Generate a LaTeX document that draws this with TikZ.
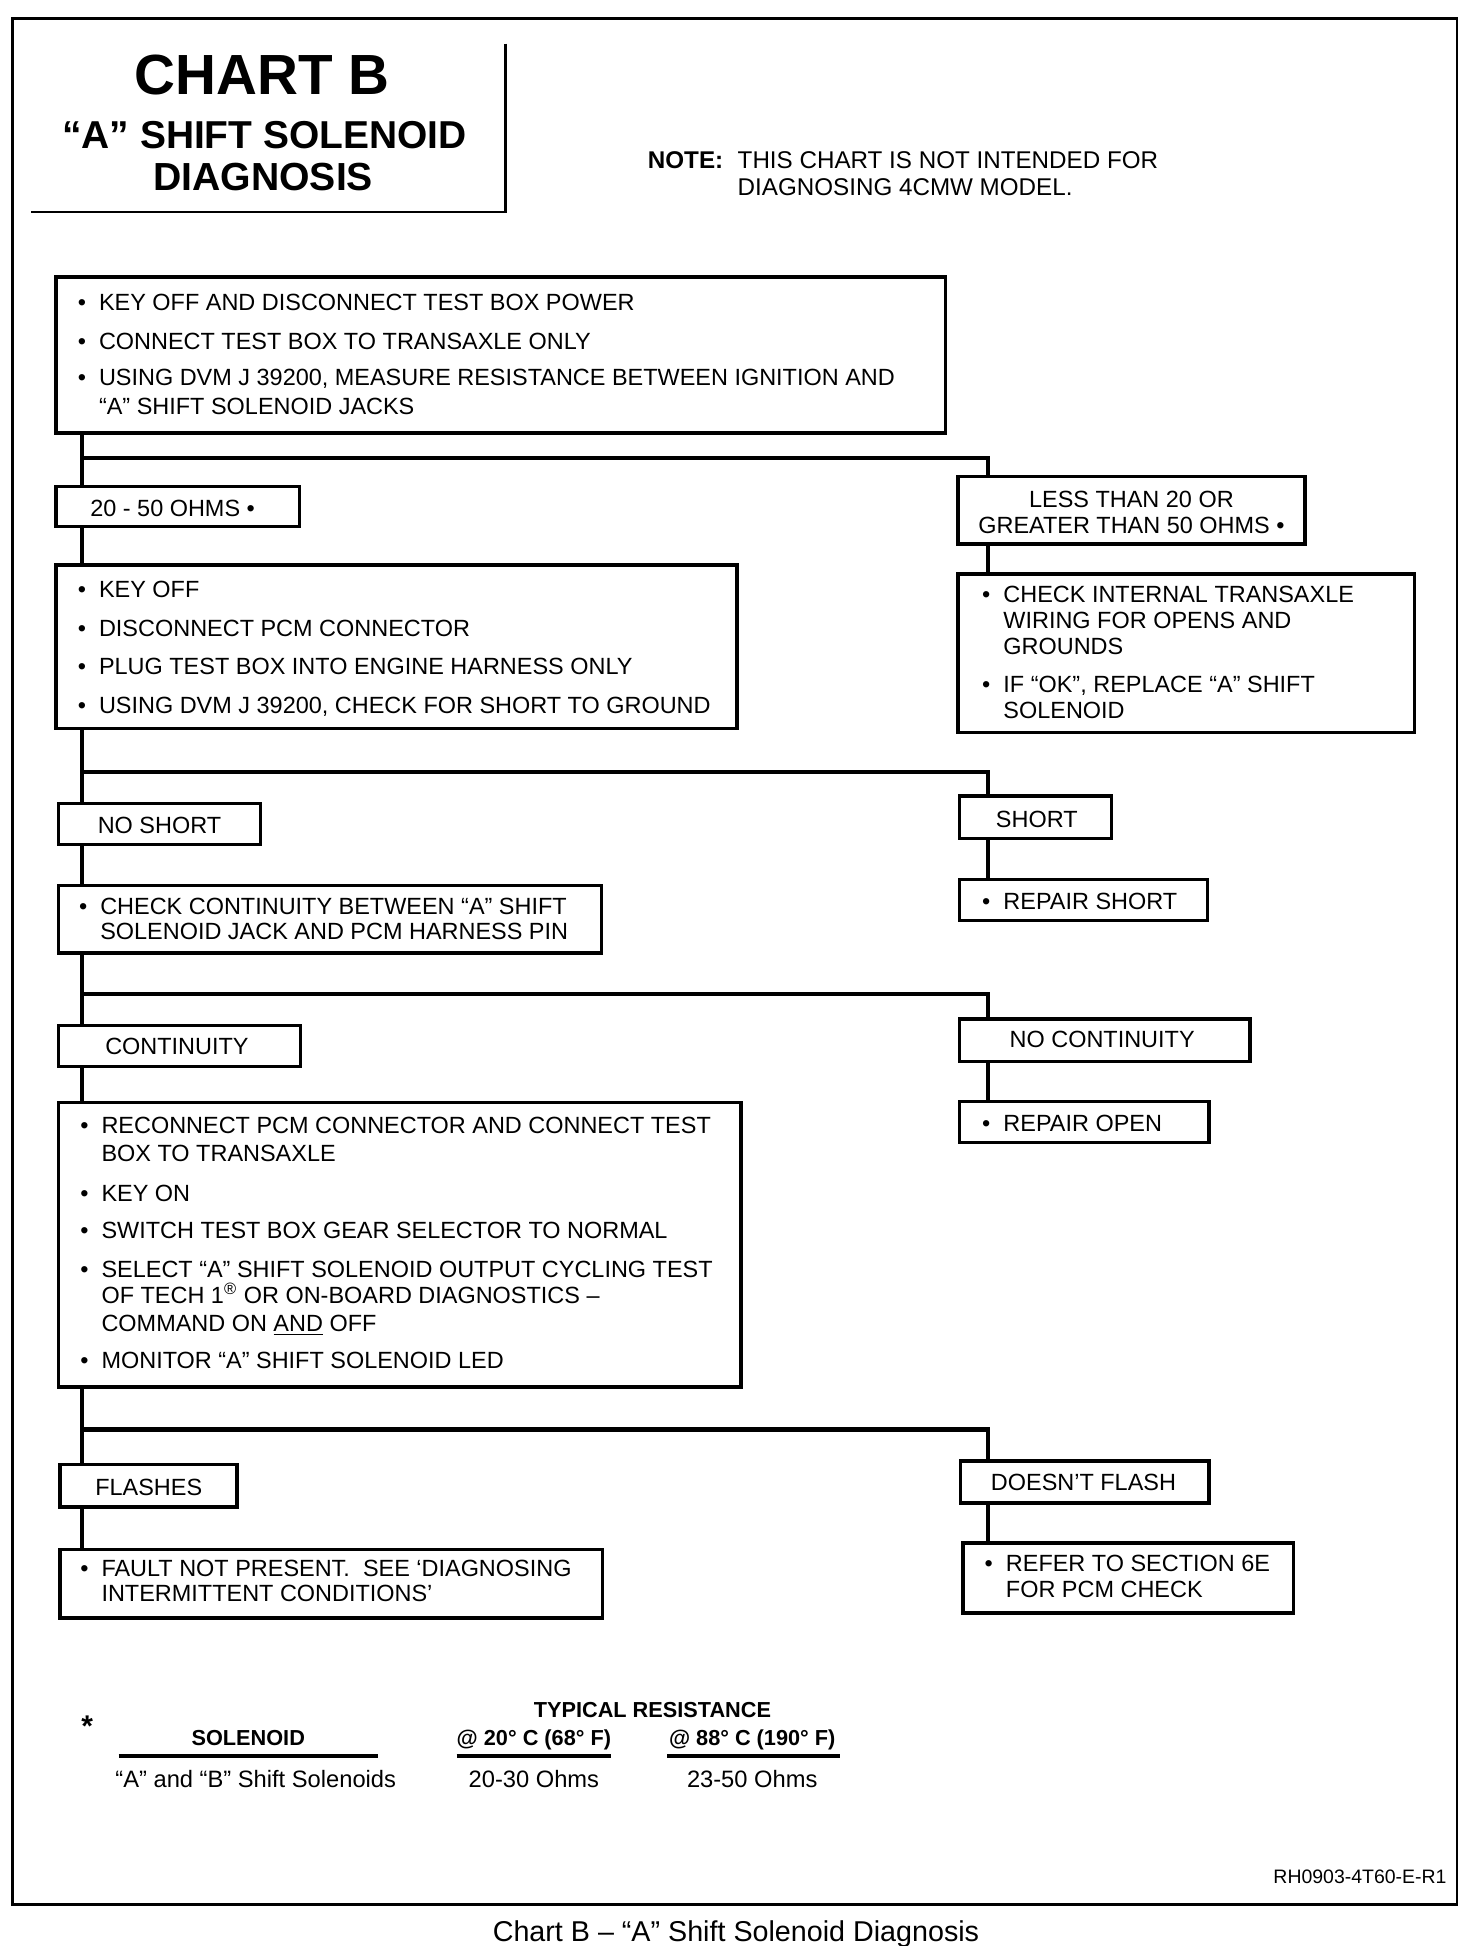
\documentclass[tikz,border=0pt]{standalone}
\usepackage{fontspec}
\setmainfont{Liberation Sans}
\usetikzlibrary{fit}
\begin{document}
\begin{tikzpicture}[x=0.5pt,y=-0.5pt,
  box/.style={draw, line width=1.4pt, inner sep=0pt},
  conn/.style={line width=1.7pt},
  frame/.style={line width=1.1pt},
  txt/.style={inner sep=0pt, anchor=base west, font=\fontsize{9.4}{11}\selectfont},
  ctxt/.style={inner sep=0pt, anchor=base, font=\fontsize{9.4}{11}\selectfont},
  bul/.style={inner sep=0pt, anchor=base west, font=\fontsize{9.4}{11}\selectfont},
  hdr/.style={inner sep=0pt, anchor=base, font=\bfseries\fontsize{8.7}{10}\selectfont},
  row/.style={inner sep=0pt, anchor=base, font=\fontsize{9.5}{11}\selectfont},
  uline/.style={line width=1.6pt}
]
\useasboundingbox (0,0) rectangle (1180,1560);
% outer frame
\draw[frame] (10,15) rectangle (1168,1527);
% title box
\draw[frame] (405,35) -- (405,171) (25,170) -- (405,170);
\node[inner sep=0pt, anchor=base, font=\bfseries\fontsize{22.7}{24}\selectfont] (tA) at (210,76) {CHART B};
\node[inner sep=0pt, anchor=base, font=\bfseries\fontsize{15.6}{17}\selectfont] (tB) at (212,119) {“A” SHIFT SOLENOID};
\node[inner sep=0pt, anchor=base, font=\bfseries\fontsize{15.7}{17}\selectfont] (tC) at (211,153) {DIAGNOSIS};
% note
\node[inner sep=0pt, anchor=base west, font=\bfseries\fontsize{9.7}{11}\selectfont] (n0) at (519,135) {NOTE:};
\node[inner sep=0pt, anchor=base west, font=\fontsize{9.7}{11}\selectfont] (n1) at (591,135) {THIS CHART IS NOT INTENDED FOR};
\node[inner sep=0pt, anchor=base west, font=\fontsize{9.7}{11}\selectfont] (n2) at (591,157) {DIAGNOSING 4CMW MODEL.};

% spine coordinates
\coordinate (sx) at (66,0);
\coordinate (rx) at (792,0);

% box 1
\node[box, fit={(45,222) (758,347)}] (b1) {};
\node[bul] (b1p1) at (62,249) {•}; \node[txt] (b1t1) at (79,249) {KEY OFF AND DISCONNECT TEST BOX POWER};
\node[bul] (b1p2) at (62,280) {•}; \node[txt] (b1t2) at (79,280) {CONNECT TEST BOX TO TRANSAXLE ONLY};
\node[bul] (b1p3) at (62,309) {•}; \node[txt] (b1t3) at (79,309) {USING DVM J 39200, MEASURE RESISTANCE BETWEEN IGNITION AND};
\node[txt] (b1t4) at (79,332) {“A” SHIFT SOLENOID JACKS};

% 20-50 / less than
\node[box, fit={(45,390) (240,422)}] (ok1) {};
\node[txt] (ok1t) at (72,414) {20 - 50 OHMS •};
\node[box, fit={(768,382) (1046,436)}] (bad1) {};
\node[ctxt] (bad1t1) at (907,407) {LESS THAN 20 OR};
\node[ctxt] (bad1t2) at (907,428) {GREATER THAN 50 OHMS •};
\coordinate (br1) at (66,367);
\draw[conn] (sx |- b1.south) -- (sx |- ok1.north);
\draw[conn] (br1) -| (rx |- bad1.north);

% box 2
\node[box, fit={(45,453) (591,584)}] (b2) {};
\node[bul] (b2p1) at (62,479) {•}; \node[txt] (b2t1) at (79,479) {KEY OFF};
\node[bul] (b2p2) at (62,510) {•}; \node[txt] (b2t2) at (79,510) {DISCONNECT PCM CONNECTOR};
\node[bul] (b2p3) at (62,541) {•}; \node[txt] (b2t3) at (79,541) {PLUG TEST BOX INTO ENGINE HARNESS ONLY};
\node[bul] (b2p4) at (62,572) {•}; \node[txt] (b2t4) at (79,572) {USING DVM J 39200, CHECK FOR SHORT TO GROUND};
\draw[conn] (sx |- ok1.south) -- (sx |- b2.north);

% right box 1
\node[box, fit={(768,460) (1134,587)}] (r1) {};
\node[bul] (r1p1) at (787,483) {•}; \node[txt] (r1t1) at (804,483) {CHECK INTERNAL TRANSAXLE};
\node[txt] (r1t2) at (804,504) {WIRING FOR OPENS AND};
\node[txt] (r1t3) at (804,525) {GROUNDS};
\node[bul] (r1p2) at (787,555) {•}; \node[txt] (r1t4) at (804,555) {IF “OK”, REPLACE “A” SHIFT};
\node[txt] (r1t5) at (804,576) {SOLENOID};
\draw[conn] (rx |- bad1.south) -- (rx |- r1.north);

% no short / short
\node[box, fit={(47,644) (209,677)}] (ns) {};
\node[txt] (nst) at (78,668) {NO SHORT};
\node[box, fit={(769,638) (891,672)}] (sh) {};
\node[txt] (sht) at (798,663) {SHORT};
\coordinate (br2) at (66,619);
\draw[conn] (sx |- b2.south) -- (sx |- ns.north);
\draw[conn] (br2) -| (rx |- sh.north);

% box 3
\node[box, fit={(47,710) (482,764)}] (b3) {};
\node[bul] (b3p1) at (63,733) {•}; \node[txt] (b3t1) at (80,733) {CHECK CONTINUITY BETWEEN “A” SHIFT};
\node[txt] (b3t2) at (80,753) {SOLENOID JACK AND PCM HARNESS PIN};
\draw[conn] (sx |- ns.south) -- (sx |- b3.north);

% repair short
\node[box, fit={(769,705) (968,738)}] (rs) {};
\node[bul] (rsp) at (787,729) {•}; \node[txt] (rst) at (804,729) {REPAIR SHORT};
\draw[conn] (rx |- sh.south) -- (rx |- rs.north);

% continuity / no continuity
\node[box, fit={(47,822) (241,855)}] (co) {};
\node[txt] (cot) at (84,845) {CONTINUITY};
\node[box, fit={(769,817) (1002,851)}] (nc) {};
\node[txt] (nct) at (809,840) {NO CONTINUITY};
\coordinate (br3) at (66,797);
\draw[conn] (sx |- b3.south) -- (sx |- co.north);
\draw[conn] (br3) -| (rx |- nc.north);

% box 4
\node[box, fit={(47,884) (594,1112)}] (b4) {};
\node[bul] (b4p1) at (64,909) {•}; \node[txt] (b4t1) at (81,909) {RECONNECT PCM CONNECTOR AND CONNECT TEST};
\node[txt] (b4t2) at (81,931) {BOX TO TRANSAXLE};
\node[bul] (b4p2) at (64,963) {•}; \node[txt] (b4t3) at (81,963) {KEY ON};
\node[bul] (b4p3) at (64,993) {•}; \node[txt] (b4t4) at (81,993) {SWITCH TEST BOX GEAR SELECTOR TO NORMAL};
\node[bul] (b4p4) at (64,1024) {•}; \node[txt] (b4t5) at (81,1024) {SELECT “A” SHIFT SOLENOID OUTPUT CYCLING TEST};
\node[txt] (b4t6) at (81,1045) {OF TECH 1\textsuperscript{®} OR ON-BOARD DIAGNOSTICS –};
\node[txt] (b4t7) at (81,1067) {COMMAND ON \underline{AND} OFF};
\node[bul] (b4p5) at (64,1097) {•}; \node[txt] (b4t8) at (81,1097) {MONITOR “A” SHIFT SOLENOID LED};
\draw[conn] (sx |- co.south) -- (sx |- b4.north);

% repair open
\node[box, fit={(769,883) (969,916)}] (ro) {};
\node[bul] (rop) at (787,907) {•}; \node[txt] (rot) at (804,907) {REPAIR OPEN};
\draw[conn] (rx |- nc.south) -- (rx |- ro.north);

% flashes / doesn't flash
\node[box, fit={(48,1174) (190,1208)}] (fl) {};
\node[txt] (flt) at (76,1199) {FLASHES};
\node[box, fit={(770,1171) (969,1205)}] (df) {};
\node[txt] (dft) at (794,1195) {DOESN’T FLASH};
\coordinate (br4) at (66,1146);
\draw[conn] (sx |- b4.south) -- (sx |- fl.north);
\draw[conn] (br4) -| (rx |- df.north);

% box 5
\node[box, fit={(48,1242) (483,1297)}] (b5) {};
\node[bul] (b5p1) at (64,1264) {•}; \node[txt] (b5t1) at (81,1264) {FAULT NOT PRESENT.\ \ SEE ‘DIAGNOSING};
\node[txt] (b5t2) at (81,1284) {INTERMITTENT CONDITIONS’};
\draw[conn] (sx |- fl.south) -- (sx |- b5.north);

% box 6
\node[box, fit={(772,1237) (1037,1293)}] (b6) {};
\node[bul] (b6p1) at (789,1260) {•}; \node[txt] (b6t1) at (806,1260) {REFER TO SECTION 6E};
\node[txt] (b6t2) at (806,1281) {FOR PCM CHECK};
\draw[conn] (rx |- df.south) -- (rx |- b6.north);

% legend
\node[inner sep=0pt, anchor=base, font=\bfseries\fontsize{12}{12}\selectfont] (ast) at (70,1392) {*};
\node[hdr] (lh0) at (523,1377) {TYPICAL RESISTANCE};
\node[hdr] (lh1) at (199,1399) {SOLENOID};
\node[hdr] (lh2) at (428,1399) {@ 20° C (68° F)};
\node[hdr] (lh3) at (603,1399) {@ 88° C (190° F)};
\draw[uline] (95,1408) -- (303,1408);
\draw[uline] (366,1408) -- (490,1408);
\draw[uline] (535,1408) -- (673,1408);
\node[row] (lr1) at (205,1433) {“A” and “B” Shift Solenoids};
\node[row] (lr2) at (428,1433) {20-30 Ohms};
\node[row] (lr3) at (603,1433) {23-50 Ohms};

% reference code and caption
\node[inner sep=0pt, anchor=base east, font=\fontsize{7.8}{9}\selectfont] (code) at (1160,1510) {RH0903-4T60-E-R1};
\node[inner sep=0pt, anchor=base, font=\fontsize{11.5}{13}\selectfont] (cap) at (590,1556) {Chart B – “A” Shift Solenoid Diagnosis};
\end{tikzpicture}
\end{document}
